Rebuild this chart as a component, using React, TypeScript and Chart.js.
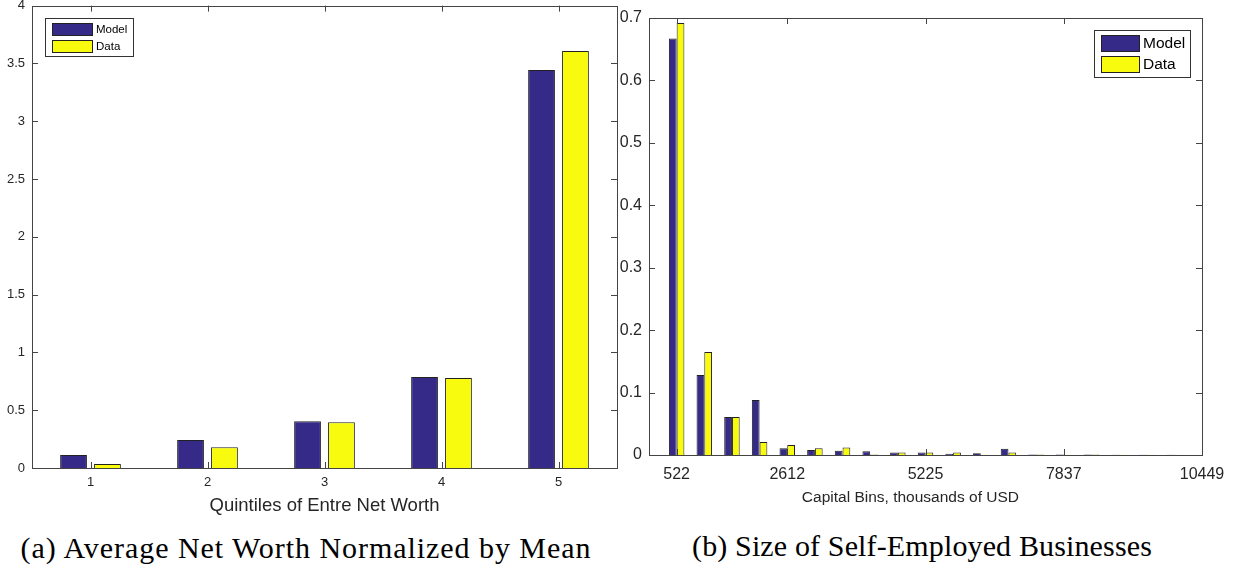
import React, { useEffect, useRef } from "react";
import { Chart, registerables } from "chart.js";

Chart.register(...registerables);

// ---------- data ----------
const quintileLabels = ["1", "2", "3", "4", "5"];
const netWorthModel = [0.112, 0.242, 0.404, 0.787, 3.443];
const netWorthData = [0.035, 0.179, 0.395, 0.778, 3.607];

const capitalBins = [
  522.45, 1044.9, 1567.35, 2089.8, 2612.25, 3134.7, 3657.15, 4179.6, 4702.05, 5224.5,
  5746.95, 6269.4, 6791.85, 7314.3, 7836.75, 8359.2, 8881.65, 9404.1, 9926.55,
];
const capitalTicks = [522.45, 2612.25, 5224.5, 7836.75, 10449];
const sizeModel = [
  0.667, 0.128, 0.061, 0.088, 0.011, 0.008, 0.007, 0.006, 0.004, 0.004,
  0.002, 0.003, 0.01, 0.001, 0.001, 0.001, 0.0005, 0.0005, 0.0005,
];
const sizeData = [
  0.692, 0.165, 0.061, 0.021, 0.016, 0.011, 0.012, 0.001, 0.004, 0.004,
  0.004, 0.0005, 0.004, 0.001, 0.0005, 0.001, 0.0005, 0.0005, 0.0005,
];

const seriesNames = ["Model", "Data"];
const MODEL_COLOR = "#352a87";
const DATA_COLOR = "#f9fb0e";
const AXIS_COLOR = "#262626";
const FONT = "'Liberation Sans', Arial, sans-serif";

// ---------- plugin: MATLAB-style box, inward ticks, legend ----------
const framePlugin = {
  id: "frame",
  afterDatasetsDraw(chart: any, _args: any, opts: any) {
    const { ctx, chartArea: a, scales } = chart;
    const xs = scales.x;
    const ys = scales.y;
    const L = opts.tickLen;
    const r = (v: number) => Math.round(v) + 0.5;
    ctx.save();
    ctx.strokeStyle = opts.color;
    ctx.lineWidth = 1;
    ctx.strokeRect(r(a.left), r(a.top), Math.round(a.right) - Math.round(a.left), Math.round(a.bottom) - Math.round(a.top));
    ctx.beginPath();
    ys.ticks.forEach((_t: any, i: number) => {
      const p = r(ys.getPixelForTick(i));
      ctx.moveTo(a.left, p);
      ctx.lineTo(a.left + L, p);
      ctx.moveTo(a.right, p);
      ctx.lineTo(a.right - L, p);
    });
    xs.ticks.forEach((_t: any, i: number) => {
      const p = r(xs.getPixelForTick(i));
      ctx.moveTo(p, a.bottom);
      ctx.lineTo(p, a.bottom - L);
      ctx.moveTo(p, a.top);
      ctx.lineTo(p, a.top + L);
    });
    ctx.stroke();

    // legend
    const lg = opts.legend;
    const bx = lg.anchor === "left" ? a.left + lg.dx : a.right - lg.dx - lg.w;
    const by = a.top + lg.dy;
    ctx.fillStyle = "#ffffff";
    ctx.fillRect(bx, by, lg.w, lg.h);
    ctx.strokeStyle = "#333333";
    ctx.strokeRect(r(bx), r(by), Math.round(lg.w), Math.round(lg.h));
    ctx.font = `${lg.fontSize}px ${FONT}`;
    ctx.textBaseline = "middle";
    ctx.textAlign = "left";
    chart.data.datasets.forEach((ds: any, i: number) => {
      const sy = by + lg.swTop + i * lg.rowGap;
      ctx.fillStyle = ds.backgroundColor;
      ctx.fillRect(bx + lg.swLeft, sy, lg.sw, lg.sh);
      ctx.strokeStyle = "#222222";
      ctx.strokeRect(r(bx + lg.swLeft), r(sy), lg.sw, lg.sh);
      ctx.fillStyle = "#000000";
      ctx.fillText(ds.label, bx + lg.swLeft + lg.sw + lg.textGap, sy + lg.sh / 2 + 0.5);
    });
    ctx.restore();
  },
};

function LeftChart() {
  const ref = useRef<HTMLCanvasElement>(null);
  useEffect(() => {
    const chart = new Chart(ref.current!, {
      type: "bar",
      data: {
        labels: quintileLabels,
        datasets: [
          {
            label: seriesNames[0],
            data: netWorthModel,
            backgroundColor: MODEL_COLOR,
            borderColor: "#222222",
            borderWidth: 1,
            categoryPercentage: 0.58,
            barPercentage: 0.79,
          },
          {
            label: seriesNames[1],
            data: netWorthData,
            backgroundColor: DATA_COLOR,
            borderColor: "#222222",
            borderWidth: 1,
            categoryPercentage: 0.58,
            barPercentage: 0.79,
          },
        ],
      },
      options: {
        responsive: false,
        animation: false,
        layout: { padding: { left: 0, right: 23, top: 25.6, bottom: 0 } },
        scales: {
          x: {
            offset: true,
            grid: { display: false, drawTicks: false },
            border: { display: false },
            ticks: { color: AXIS_COLOR, font: { family: FONT, size: 13 }, padding: 7, maxRotation: 0 },
            title: {
              display: true,
              text: "Quintiles of Entre Net Worth",
              color: AXIS_COLOR,
              font: { family: FONT, size: 18.5 },
              padding: { top: 0, bottom: 3 },
            },
            afterFit: (s: any) => {
              s.height = 52;
            },
          },
          y: {
            min: 0,
            max: 4,
            grid: { display: false, drawTicks: false },
            border: { display: false },
            ticks: {
              stepSize: 0.5,
              color: AXIS_COLOR,
              font: { family: FONT, size: 13 },
              padding: 7,
              callback: (v: any) => String(Number(Number(v).toFixed(1))),
            },
            afterFit: (s: any) => {
              s.width = 32;
            },
          },
        },
        plugins: {
          legend: { display: false },
          tooltip: { enabled: false },
          frame: {
            color: "#444444",
            tickLen: 6,
            legend: {
              anchor: "left", dx: 13, dy: 12.4, w: 88, h: 38,
              swLeft: 7, swTop: 5, sw: 40, sh: 12, rowGap: 17, textGap: 4, fontSize: 11.5,
            },
          },
        } as any,
      },
      plugins: [framePlugin],
    });
    return () => chart.destroy();
  }, []);
  return (
    <canvas
      ref={ref}
      width={640}
      height={540}
      style={{ position: "absolute", left: 0, top: -20, width: 640, height: 540 }}
    />
  );
}

function RightChart() {
  const ref = useRef<HTMLCanvasElement>(null);
  useEffect(() => {
    const chart = new Chart(ref.current!, {
      type: "bar",
      data: {
        datasets: [
          {
            label: seriesNames[0],
            data: capitalBins.map((x, i) => ({ x, y: sizeModel[i] })),
            backgroundColor: MODEL_COLOR,
            borderColor: "#222222",
            borderWidth: 1,
            categoryPercentage: 0.56,
            barPercentage: 1.0,
          },
          {
            label: seriesNames[1],
            data: capitalBins.map((x, i) => ({ x, y: sizeData[i] })),
            backgroundColor: DATA_COLOR,
            borderColor: "#222222",
            borderWidth: 1,
            categoryPercentage: 0.56,
            barPercentage: 1.0,
          },
        ],
      },
      options: {
        responsive: false,
        animation: false,
        layout: { padding: { left: 0, right: 39, top: 38, bottom: 0 } },
        scales: {
          x: {
            type: "linear",
            min: 0,
            max: 10449,
            offset: false,
            grid: { display: false, drawTicks: false },
            border: { display: false },
            afterBuildTicks: (s: any) => {
              s.ticks = capitalTicks.map((v) => ({ value: v }));
            },
            ticks: {
              autoSkip: false,
              maxRotation: 0,
              color: AXIS_COLOR,
              font: { family: FONT, size: 16 },
              padding: 9.5,
              callback: (v: any) => String(Math.round(Number(v))),
            },
            title: {
              display: true,
              text: "Capital Bins, thousands of USD       ",
              color: AXIS_COLOR,
              font: { family: FONT, size: 15.5 },
              padding: { top: 0, bottom: 12.7 },
            },
            afterFit: (s: any) => {
              s.height = 65;
            },
          },
          y: {
            min: 0,
            max: 0.7,
            grid: { display: false, drawTicks: false },
            border: { display: false },
            ticks: {
              stepSize: 0.1,
              color: AXIS_COLOR,
              font: { family: FONT, size: 16 },
              padding: 7,
              callback: (v: any) => String(Number(Number(v).toFixed(1))),
            },
            afterFit: (s: any) => {
              s.width = 34;
            },
          },
        },
        plugins: {
          legend: { display: false },
          tooltip: { enabled: false },
          frame: {
            color: "#444444",
            tickLen: 6,
            legend: {
              anchor: "right", dx: 12, dy: 12, w: 96, h: 47,
              swLeft: 7, swTop: 5, sw: 38, sh: 16, rowGap: 21, textGap: 4, fontSize: 15.5,
            },
          },
        } as any,
      },
      plugins: [framePlugin],
    });
    return () => chart.destroy();
  }, []);
  return (
    <canvas
      ref={ref}
      width={626}
      height={540}
      style={{ position: "absolute", left: 615, top: -20, width: 626, height: 540 }}
    />
  );
}

const captionStyle: React.CSSProperties = {
  position: "absolute",
  width: 800,
  textAlign: "center",
  fontFamily: "'Liberation Serif', 'Times New Roman', serif",
  fontSize: 30,
  lineHeight: "30px",
  color: "#000",
  whiteSpace: "nowrap",
};

export default function App() {
  return (
    <div
      style={{
        position: "fixed",
        left: 0,
        top: 0,
        width: 1241,
        height: 575,
        background: "#fff",
        overflow: "hidden",
      }}
    >
      <LeftChart />
      <RightChart />
      <div style={{ ...captionStyle, left: 306 - 400, top: 533, letterSpacing: "0.95px" }}>
        (a) Average Net Worth Normalized by Mean
      </div>
      <div style={{ ...captionStyle, left: 922 - 400, top: 531, letterSpacing: "0.14px" }}>
        (b) Size of Self-Employed Businesses
      </div>
    </div>
  );
}
